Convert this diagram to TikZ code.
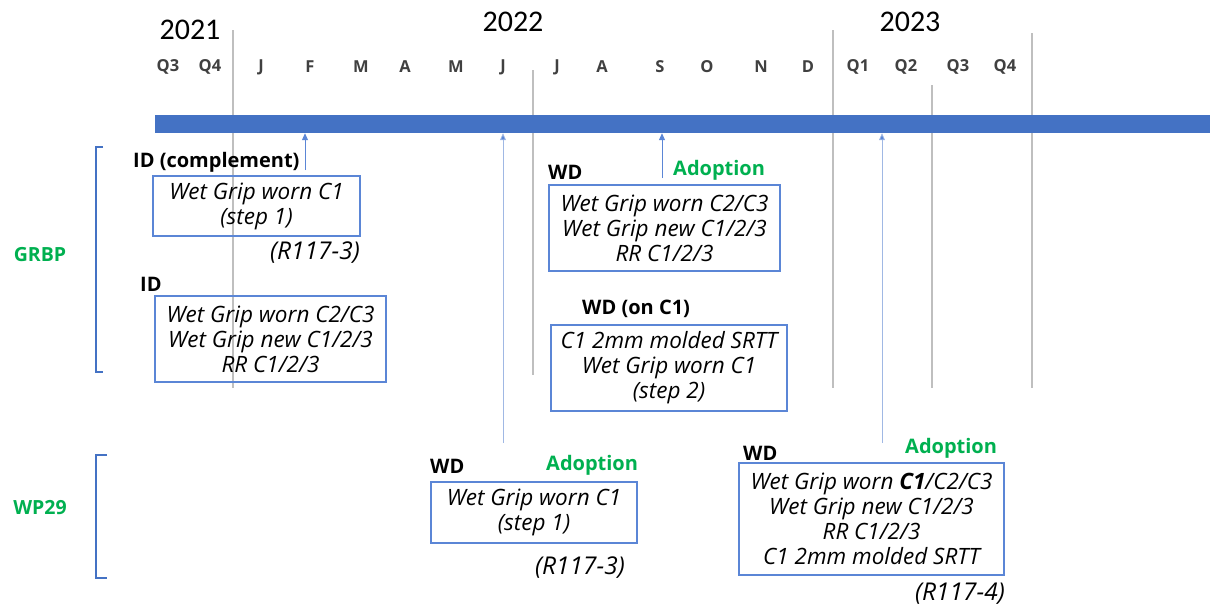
\documentclass[tikz,border=0pt]{standalone}
\usepackage{fontspec}
\setmainfont{Open Sans}
\newfontfamily\yearfont{Carlito}
\usetikzlibrary{arrows.meta}
\definecolor{barblue}{RGB}{68,114,196}
\definecolor{boxblue}{RGB}{91,134,214}
\definecolor{paleblue}{RGB}{160,184,228}
\definecolor{gridgrey}{RGB}{191,191,191}
\definecolor{orggreen}{RGB}{0,176,80}
\definecolor{monthgrey}{RGB}{64,64,64}

\begin{document}
\begin{tikzpicture}[x=1pt,y=-1pt,
  yearlabel/.style={font=\yearfont\fontsize{30}{32}\selectfont,inner sep=0pt},
  monthlabel/.style={font=\fontsize{16.5}{18}\selectfont\bfseries,text=monthgrey,inner sep=0pt},
  gridline/.style={draw=gridgrey,line width=1.5pt},
  stagelabel/.style={font=\fontsize{20}{22}\selectfont\bfseries,anchor=west,inner sep=0pt},
  adoptlabel/.style={stagelabel,text=orggreen},
  orglabel/.style={font=\fontsize{19.5}{22}\selectfont\bfseries,text=orggreen,inner sep=0pt},
  itembox/.style={draw=boxblue,line width=1.2pt,align=center,inner sep=0pt,
    font=\fontsize{22.5}{25}\selectfont\itshape},
  reglabel/.style={font=\fontsize{24.5}{27}\selectfont\itshape,inner sep=0pt},
  markarrow/.style={draw=boxblue,line width=1pt,-{Triangle[width=6pt,length=7pt]}},
  longarrow/.style={draw=paleblue,line width=0.8pt,-{Triangle[width=6pt,length=7pt,fill=boxblue]}},
  bracket/.style={draw=barblue,line width=2pt}]
\useasboundingbox (0,0) rectangle (1210,608);

% grid
\draw[gridline] (233,30) -- (233,388);
\draw[gridline] (533,70) -- (533,375);
\draw[gridline] (833,30) -- (833,388);
\draw[gridline] (932,85) -- (932,388);
\draw[gridline] (1032,33) -- (1032,388);

% years and months
\node[yearlabel] (y2021) at (190,30) {2021};
\node[yearlabel] (y2022) at (513,22) {2022};
\node[yearlabel] (y2023) at (910,22) {2023};
\foreach \mx/\mname in {168/Q3,210/Q4,261/J,310/F,361/M,405/A,456/M,503/J,557/J,
    602/A,660/S,707/O,761/N,808/D,858/Q1,906/Q2,958/Q3,1005/Q4}
  \node[monthlabel] at (\mx,67) {\mname};

% timeline bar
\node[fill=barblue,minimum width=1055pt,minimum height=18pt,inner sep=0pt] (bar) at (682.5,124) {};

% groups
\draw[bracket] (103,147) -- (96,147) -- (96,372) -- (103,372);
\draw[bracket] (107,455) -- (96,455) -- (96,578) -- (107,578);
\node[orglabel] (grbp) at (40,255) {GRBP};
\node[orglabel] (wp29) at (40,508) {WP29};

% GRBP, left
\node[stagelabel] (idc) at (133,162) {ID (complement)};
\node[itembox,minimum width=207pt,minimum height=60pt] (wgc1) at (256.5,206)
  {Wet Grip worn C1\\(step 1)};
\node[reglabel] (r1173a) at (315,253) {(R117-3)};
\node[stagelabel] (id) at (140,284) {ID};
\node[itembox,minimum width=231pt,minimum height=86pt] (wgall) at (270.5,339)
  {Wet Grip worn C2/C3\\Wet Grip new C1/2/3\\RR C1/2/3};

% GRBP, right
\node[stagelabel] (wd) at (548,172) {WD};
\node[adoptlabel] (adopt) at (673,170) {Adoption};
\node[itembox,minimum width=231pt,minimum height=86pt] (wdall) at (664.5,228)
  {Wet Grip worn C2/C3\\Wet Grip new C1/2/3\\RR C1/2/3};
\node[stagelabel] (wdc1) at (582,309) {WD (on C1)};
\node[itembox,minimum width=236pt,minimum height=86pt] (srtt) at (669,368)
  {C1 2mm molded SRTT\\Wet Grip worn C1\\(step 2)};

% WP29
\node[stagelabel] (wpwd) at (430,466) {WD};
\node[adoptlabel] (wpadopt) at (546,465) {Adoption};
\node[itembox,minimum width=206pt,minimum height=61pt] (wpc1) at (534,512.5)
  {Wet Grip worn C1\\(step 1)};
\node[reglabel] (r1173b) at (580,568) {(R117-3)};
\node[stagelabel] (wpwd2) at (743,453) {WD};
\node[adoptlabel] (wpadopt2) at (905,448) {Adoption};
\node[itembox,minimum width=265pt,minimum height=112pt] (wpall) at (871.5,519)
  {Wet Grip worn \textbf{C1}/C2/C3\\Wet Grip new C1/2/3\\RR C1/2/3\\C1 2mm molded SRTT};
\node[reglabel] (r1174) at (960,594) {(R117-4)};

% milestones
\coordinate (m1) at (305,170);
\coordinate (m2) at (503,443);
\coordinate (m3) at (662,178);
\coordinate (m4) at (882,443);
\draw[markarrow] (m1) -- (m1 |- bar.south);
\draw[longarrow] (m2) -- (m2 |- bar.south);
\draw[markarrow] (m3) -- (m3 |- bar.south);
\draw[longarrow] (m4) -- (m4 |- bar.south);
\end{tikzpicture}
\end{document}
